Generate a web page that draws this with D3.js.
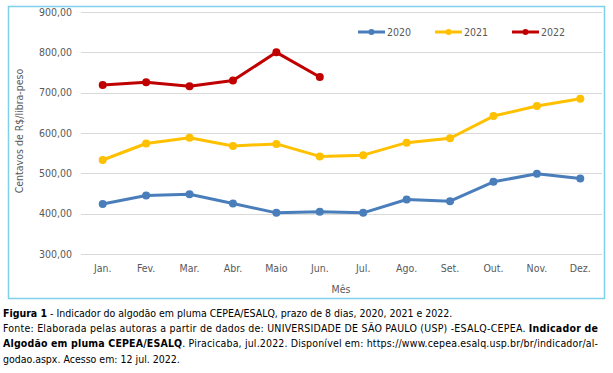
<!DOCTYPE html>
<html>
<head>
<meta charset="utf-8">
<script src="https://cdn.jsdelivr.net/npm/d3@7"></script>
<style>
  body { margin: 0; background: #fff; }
  text { font-family: "DejaVu Sans Condensed", "DejaVu Sans", sans-serif; }
</style>
</head>
<body>
<script>
var months = ["Jan.", "Fev.", "Mar.", "Abr.", "Maio", "Jun.", "Jul.", "Ago.", "Set.", "Out.", "Nov.", "Dez."];
var yTicks = [300, 400, 500, 600, 700, 800, 900];
var s2020 = [424, 445, 448, 425, 402, 405, 402, 435, 431, 479, 499, 487];
var s2021 = [533, 574, 588, 568, 573, 542, 545, 576, 587, 642, 667, 685];
var s2022 = [719, 726, 716, 730, 800, 739];
var seriesNames = ["2020", "2021", "2022"];
var seriesColors = ["#4a7ebb", "#ffc000", "#c00000"];

var series = [s2020, s2021, s2022].map(function (vals, i) {
    return { name: seriesNames[i], color: seriesColors[i], values: vals };
});

var W = 613, H = 373;
var svg = d3.select("body").append("svg")
    .attr("width", W)
    .attr("height", H);

// chart frame
svg.append("rect")
    .attr("x", 8.5).attr("y", 6.5)
    .attr("width", 596).attr("height", 292)
    .attr("fill", "#fff")
    .attr("stroke", "#7fd0ea")
    .attr("stroke-width", 1.5);

var x = d3.scaleBand().domain(months).range([81, 602]);
var y = d3.scaleLinear().domain([300, 900]).range([254, 12]);

// gridlines
svg.append("g").selectAll("line")
    .data(yTicks)
    .enter().append("line")
    .attr("x1", 81).attr("x2", 602)
    .attr("y1", function (d) { return Math.round(y(d)) + 0.5; })
    .attr("y2", function (d) { return Math.round(y(d)) + 0.5; })
    .attr("stroke", "#d9d9d9")
    .attr("stroke-width", 1);

var fmt = function (d) { return d3.format(".2f")(d).replace(".", ","); };

svg.append("g").selectAll("text")
    .data(yTicks)
    .enter().append("text")
    .attr("x", 72)
    .attr("y", function (d) { return y(d); })
    .attr("dy", "0.35em")
    .attr("text-anchor", "end")
    .attr("font-size", 10.5)
    .attr("fill", "#595959")
    .text(fmt);

svg.append("g").selectAll("text")
    .data(months)
    .enter().append("text")
    .attr("x", function (d) { return x(d) + x.bandwidth() / 2; })
    .attr("y", 268)
    .attr("dy", "0.35em")
    .attr("text-anchor", "middle")
    .attr("font-size", 10.5)
    .attr("fill", "#595959")
    .text(function (d) { return d; });

svg.append("text")
    .attr("x", 341).attr("y", 289)
    .attr("dy", "0.35em")
    .attr("text-anchor", "middle")
    .attr("font-size", 10.5)
    .attr("fill", "#595959")
    .text("Mês");

svg.append("text")
    .attr("transform", "translate(19,131) rotate(-90)")
    .attr("dy", "0.35em")
    .attr("text-anchor", "middle")
    .attr("font-size", 10.5)
    .attr("fill", "#595959")
    .text("Centavos de R$/libra-peso");

var line = d3.line()
    .x(function (d, i) { return x(months[i]) + x.bandwidth() / 2; })
    .y(function (d) { return y(d); });

var g = svg.append("g").selectAll("g")
    .data(series)
    .enter().append("g");

g.append("path")
    .attr("d", function (d) { return line(d.values); })
    .attr("fill", "none")
    .attr("stroke", function (d) { return d.color; })
    .attr("stroke-width", 3)
    .attr("stroke-linejoin", "round");

g.selectAll("circle")
    .data(function (d) { return d.values.map(function (v, i) { return { v: v, i: i, color: d.color }; }); })
    .enter().append("circle")
    .attr("cx", function (d) { return x(months[d.i]) + x.bandwidth() / 2; })
    .attr("cy", function (d) { return y(d.v); })
    .attr("r", 4)
    .attr("fill", function (d) { return d.color; });

// legend
var legX = [358, 435, 512];
var leg = svg.append("g").selectAll("g")
    .data(series)
    .enter().append("g")
    .attr("transform", function (d, i) { return "translate(" + legX[i] + ",32)"; });
leg.append("line")
    .attr("x1", 0).attr("x2", 27)
    .attr("stroke", function (d) { return d.color; })
    .attr("stroke-width", 3);
leg.append("circle")
    .attr("cx", 13.5).attr("r", 3)
    .attr("fill", function (d) { return d.color; });
leg.append("text")
    .attr("x", 29)
    .attr("dy", "0.35em")
    .attr("font-size", 10.5)
    .attr("fill", "#595959")
    .text(function (d) { return d.name; });

// caption
var cap = svg.append("g").attr("font-size", 10.5).attr("fill", "#000");
var t1 = cap.append("text").attr("x", 3).attr("y", 317);
t1.append("tspan").attr("font-weight", "bold").text("Figura 1");
t1.append("tspan").text(" - Indicador do algodão em pluma CEPEA/ESALQ, prazo de 8 dias, 2020, 2021 e 2022.");

var t2 = cap.append("text").attr("x", 3).attr("y", 332)
    .attr("textLength", 595).attr("lengthAdjust", "spacing");
t2.append("tspan").text("Fonte: Elaborada pelas autoras a partir de dados de: UNIVERSIDADE DE SÃO PAULO (USP) -ESALQ-CEPEA. ");
t2.append("tspan").attr("font-weight", "bold").text("Indicador de");

var t3 = cap.append("text").attr("x", 3).attr("y", 347)
    .attr("textLength", 595).attr("lengthAdjust", "spacing");
t3.append("tspan").attr("font-weight", "bold").text("Algodão em pluma CEPEA/ESALQ");
t3.append("tspan").text(". Piracicaba, jul.2022. Disponível em: https://www.cepea.esalq.usp.br/br/indicador/al-");

cap.append("text").attr("x", 3).attr("y", 363)
    .text("godao.aspx. Acesso em: 12 jul. 2022.");
</script>
</body>
</html>
